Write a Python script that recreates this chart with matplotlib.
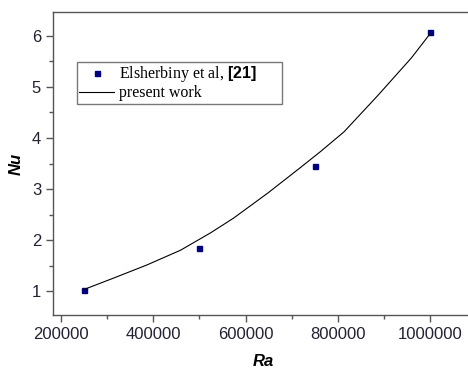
import matplotlib
matplotlib.use('Agg')
import matplotlib.pyplot as plt
from matplotlib.ticker import MultipleLocator

# reference data (Elsherbiny et al.)
ra_ref = [250000, 500000, 750000, 1000000]
nu_ref = [1.03, 1.85, 3.45, 6.08]

# present work curve
ra_work = [250000, 313000, 386000, 459000, 524000, 574000, 648000,
           720000, 763000, 813000, 887000, 959000, 1000000]
nu_work = [1.03, 1.25, 1.51, 1.80, 2.14, 2.43, 2.92,
           3.43, 3.74, 4.12, 4.84, 5.57, 6.05]

plt.rcParams['font.family'] = 'Liberation Sans'
plt.rcParams['mathtext.fontset'] = 'custom'
plt.rcParams['mathtext.bf'] = 'Liberation Sans:bold'
plt.rcParams['mathtext.rm'] = 'Liberation Serif'

fig = plt.figure(figsize=(4.68, 3.70), dpi=100)
ax = fig.add_axes([0.113, 0.1486, 0.898, 0.819])

ax.plot(ra_ref, nu_ref, 's', color='#000080', markersize=3.6, linestyle='none',
        label=r'Elsherbiny et al, $\mathbf{[21]}$')
ax.plot(ra_work, nu_work, '-', color='black', linewidth=0.8, label='present work')

ax.set_xlim(182700, 1092700)
ax.set_ylim(0.53, 6.47)
ax.xaxis.set_major_locator(MultipleLocator(200000))
ax.xaxis.set_minor_locator(MultipleLocator(100000))
ax.yaxis.set_major_locator(MultipleLocator(1))
ax.yaxis.set_minor_locator(MultipleLocator(0.5))
ax.ticklabel_format(axis='x', style='plain', useOffset=False)

for s in ['left', 'bottom', 'top']:
    ax.spines[s].set_color('#555555')
    ax.spines[s].set_linewidth(1.0)
ax.spines['right'].set_visible(False)

ax.tick_params(which='major', direction='out', length=5, width=1, color='#555555',
               labelsize=12, labelcolor='#222233', top=False, right=False)
ax.tick_params(which='minor', direction='out', length=3, width=1, color='#555555',
               top=False, right=False)

ax.set_xlabel('Ra', fontsize=12, fontweight='bold', style='italic', labelpad=9)
ax.set_ylabel('Nu', fontsize=12, fontweight='bold', style='italic', labelpad=6)

leg = ax.legend(loc='upper left', bbox_to_anchor=(0.057, 0.70, 0.488, 0.135),
                mode='expand', borderaxespad=0,
                prop={'family': 'Liberation Serif', 'size': 11.5},
                fancybox=False, handlelength=2.2, handletextpad=0.3,
                borderpad=0.15, labelspacing=0.05, frameon=True)
leg.get_frame().set_edgecolor('#555555')
leg.get_frame().set_linewidth(1.0)

fig.savefig('out.png', dpi=100)
